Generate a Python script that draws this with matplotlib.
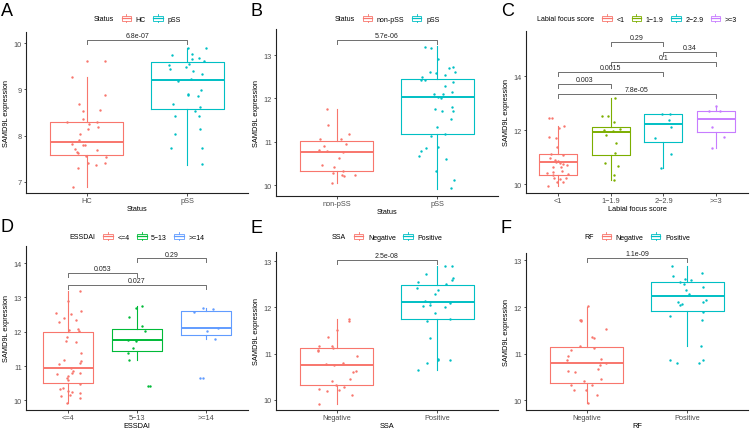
import numpy as np
import matplotlib
matplotlib.use("Agg")
import matplotlib.pyplot as plt
from matplotlib.lines import Line2D
from matplotlib.patches import Rectangle
from matplotlib.legend_handler import HandlerBase
from matplotlib.offsetbox import HPacker

plt.rcParams['font.family'] = ['Liberation Sans', 'DejaVu Sans']

# ---------------- data ----------------
# A: Status
a_groups = ["HC", "pSS"]
a_hc = [9.62, 9.62, 9.26, 8.88, 8.69, 8.54, 8.56, 8.35, 8.26, 8.30, 8.29, 8.14, 8.04, 8.18, 7.90,
        7.79, 7.81, 7.79, 7.71, 7.65, 7.70, 7.63, 7.55, 7.53, 7.41, 7.37, 7.40, 7.31, 6.90]
a_pss = [9.89, 9.90, 9.75, 9.77, 9.68, 9.66, 9.61, 9.52, 9.54, 9.49, 9.43, 9.39, 9.34, 9.23, 9.18,
         8.98, 8.88, 8.90, 8.85, 8.69, 8.62, 8.53, 8.42, 8.43, 8.15, 8.04, 7.74, 7.74, 7.38]
# whisker low, q1, median, q3, whisker high
a_stats = [[6.90, 7.58, 7.86, 8.30, 9.26], [7.37, 8.57, 9.20, 9.60, 9.90]]
a_pvals = [(0, 1, "6.8e-07")]

# B: Status
b_groups = ["non-pSS", "pSS"]
b_non = [11.75, 11.38, 11.17, 11.07, 11.07, 10.94, 10.90, 10.80, 10.78, 10.76, 10.63, 10.47, 10.43,
         10.33, 10.29, 10.24, 10.24, 10.21, 10.06]
b_pss = [13.19, 13.17, 12.90, 12.73, 12.70, 12.61, 12.61, 12.59, 12.53, 12.49, 12.43, 12.42, 12.37,
         12.29, 12.14, 12.11, 12.11, 12.04, 12.02, 11.81, 11.75, 11.71, 11.71, 11.52, 11.34, 11.17,
         11.14, 10.87, 10.85, 10.79, 10.67, 10.61, 10.33, 10.12, 9.94]
b_stats = [[10.06, 10.32, 10.76, 11.01, 11.75], [9.92, 11.17, 12.03, 12.44, 13.20]]
b_pvals = [(0, 1, "5.7e-06")]

# C: Labial focus score
c_groups = ["<1", "1\u22121.9", "2\u22122.9", ">=3"]
c_lt1 = [12.46, 12.46, 12.15, 12.08, 11.75, 11.71, 11.38, 11.14, 11.07, 10.97, 10.89, 10.85, 10.82,
         10.80, 10.76, 10.73, 10.64, 10.64, 10.49, 10.46, 10.42, 10.37, 10.33, 10.25, 10.25, 10.21,
         10.09, 10.09, 9.94]
c_1to2 = [13.19, 12.55, 12.52, 12.30, 12.06, 12.00, 11.96, 11.83, 11.54, 11.17, 10.80, 10.68, 10.36, 10.15]
c_2to3 = [12.61, 12.61, 12.39, 12.14, 11.72, 11.13, 10.60]
c_ge3 = [12.89, 12.73, 12.71, 12.12, 11.75, 11.34]
c_stats = [[9.94, 10.34, 10.81, 11.11, 12.18], [10.15, 11.08, 11.93, 12.12, 13.19],
           [10.60, 11.56, 12.25, 12.61, 12.61], [11.34, 11.93, 12.42, 12.72, 12.92]]
c_pvals = [(1, 2, "0.29"), (2, 3, "0.34"), (1, 3, "0.1"), (0, 2, "0.0015"), (0, 1, "0.003"),
           (0, 3, "7.8e-05")]

# D: ESSDAI
d_groups = ["<=4", "5\u221213", ">=14"]
d_le4 = [13.18, 12.89, 12.60, 12.56, 12.51, 12.40, 12.35, 12.28, 12.09, 12.05, 12.02, 11.85, 11.73,
         11.70, 11.37, 11.17, 11.14, 11.08, 11.06, 10.93, 10.87, 10.81, 10.81, 10.77, 10.72, 10.66,
         10.60, 10.47, 10.37, 10.34, 10.26, 10.25, 10.23, 10.16, 10.13, 10.06, 9.92]
d_5to13 = [12.74, 12.69, 12.43, 12.17, 12.02, 11.77, 11.73, 11.53, 11.37, 11.18, 10.42, 10.42]
d_ge14 = [12.69, 12.66, 12.59, 12.10, 12.01, 11.80, 10.65, 10.65]
d_stats = [[9.92, 10.50, 10.93, 12.00, 13.18], [11.18, 11.45, 11.76, 12.07, 12.74],
           [11.80, 11.91, 12.11, 12.60, 12.69]]
d_pvals = [(1, 2, "0.29"), (0, 1, "0.053"), (0, 2, "0.027")]

# E: SSA
e_groups = ["Negative", "Positive"]
e_neg = [11.74, 11.71, 11.51, 11.35, 11.17, 11.17, 11.12, 11.08, 11.06, 10.94, 10.79, 10.77, 10.75,
         10.63, 10.60, 10.45, 10.41, 10.33, 10.27, 10.24, 10.22, 10.19, 10.11, 9.91]
e_pos = [12.90, 12.90, 12.73, 12.63, 12.60, 12.54, 12.50, 12.43, 12.38, 12.30, 12.14, 12.12, 12.10,
         12.05, 12.03, 12.01, 11.88, 11.74, 11.71, 11.33, 10.86, 10.88, 10.86, 10.79, 10.65]
e_stats = [[9.91, 10.32, 10.76, 11.12, 11.74], [10.65, 11.74, 12.12, 12.48, 12.90]]
e_pvals = [(0, 1, "2.5e-08")]

# F: RF
f_groups = ["Negative", "Positive"]
f_neg = [12.02, 11.73, 11.72, 11.71, 11.52, 11.35, 11.34, 11.17, 11.12, 11.08, 10.94, 10.89, 10.87,
         10.80, 10.76, 10.67, 10.63, 10.61, 10.46, 10.42, 10.33, 10.32, 10.23, 10.21, 10.12, 9.93]
f_pos = [12.89, 12.73, 12.66, 12.61, 12.59, 12.53, 12.50, 12.43, 12.37, 12.29, 12.15, 12.11, 12.11,
         12.06, 12.04, 11.90, 11.81, 11.73, 11.17, 10.87, 10.87, 10.80, 10.80]
f_stats = [[9.93, 10.36, 10.79, 11.15, 12.00], [11.17, 11.92, 12.23, 12.53, 12.89]]
f_pvals = [(0, 1, "1.1e-09")]

# ---------------- style / layout ----------------
W, H = 753, 431
hue2 = ["#F8766D", "#00BFC4"]
hue3 = ["#F8766D", "#00BA38", "#619CFF"]
hue4 = ["#F8766D", "#7CAE00", "#00BFC4", "#C77CFF"]
fs_tick = 5.3
fs_leg = 5.0
br_col = "#6e6e6e"


class BoxKey(HandlerBase):
    # ggplot-like boxplot legend key
    def create_artists(self, legend, orig, xd, yd, w, h, fs, trans):
        c = orig.get_color()
        x0, y0 = -xd, -yd
        cx = x0 + w / 2
        arts = [
            Line2D([cx, cx], [y0, y0 + 0.22 * h], color=c, lw=0.6),
            Line2D([cx, cx], [y0 + 0.78 * h, y0 + h], color=c, lw=0.6),
            Rectangle((x0 + 0.1 * w, y0 + 0.22 * h), 0.8 * w, 0.56 * h, fill=False, ec=c, lw=0.6),
            Line2D([x0 + 0.1 * w, x0 + 0.9 * w], [y0 + 0.5 * h, y0 + 0.5 * h], color=c, lw=0.9),
        ]
        for a in arts:
            a.set_transform(trans)
        return arts


def px_rect(l, t, r, b):
    return [l / W, 1 - b / H, (r - l) / W, (b - t) / H]


fig = plt.figure(figsize=(W / 100, H / 100), dpi=100)


def panel(rect, letter, letter_xy, groups, series, stats, colors, pvals, bracket_y, ylim, yticks,
          xlabel, seed):
    ax = fig.add_axes(px_rect(*rect))
    n = len(groups)
    pos = np.arange(n)
    for i in range(n):
        s = stats[i]
        st = dict(whislo=s[0], q1=s[1], med=s[2], q3=s[3], whishi=s[4])
        ax.bxp([st], positions=[i], widths=0.72, showfliers=False, showcaps=False,
               boxprops=dict(color=colors[i], lw=0.8),
               whiskerprops=dict(color=colors[i], lw=0.8),
               medianprops=dict(color=colors[i], lw=1.4), manage_ticks=False)
    rng = np.random.default_rng(seed)
    for i, vals in enumerate(series):
        jit = rng.uniform(-0.2, 0.2, len(vals))
        ax.scatter(i + jit, vals, s=3, color=colors[i], lw=0, zorder=4)

    span = ylim[1] - ylim[0]
    tip = 0.025 * span
    for (g1, g2, lab), yb in zip(pvals, bracket_y):
        ax.plot([g1, g1, g2, g2], [yb - tip, yb, yb, yb - tip], color=br_col, lw=0.7,
                clip_on=False, zorder=3)
        ax.annotate(lab, (0.5 * (g1 + g2), yb), xytext=(0, 0.6), textcoords="offset points",
                    ha="center", va="bottom", fontsize=fs_leg, color="#222222")

    ax.set_xlim(-0.6, n - 0.4)
    ax.set_ylim(ylim)
    ax.set_xticks(pos)
    ax.set_xticklabels(groups)
    ax.set_yticks(yticks)
    for sp in ["top", "right"]:
        ax.spines[sp].set_visible(False)
    for sp in ["left", "bottom"]:
        ax.spines[sp].set_linewidth(0.8)
        ax.spines[sp].set_color("#222222")
    ax.tick_params(length=1.8, width=0.6, color="#333333", labelsize=fs_tick,
                   labelcolor="#4D4D4D", pad=1.0)
    ax.set_ylabel("SAMD9L expression", fontsize=fs_tick, labelpad=3)
    ax.set_xlabel(xlabel, fontsize=fs_tick, labelpad=0.5)

    fig.text(letter_xy[0] / W, 1 - letter_xy[1] / H, letter, fontsize=13, ha="left", va="top")

    handles = [Line2D([], [], color=c) for c in colors]
    cx = (rect[0] + rect[2]) / 2
    leg = fig.legend(handles, groups, handler_map={Line2D: BoxKey()}, ncol=n, frameon=False,
                     fontsize=fs_leg, handlelength=1.7, handleheight=1.4, columnspacing=0.9,
                     handletextpad=0.5, title=xlabel, title_fontsize=fs_leg, loc="center",
                     bbox_to_anchor=(cx / W, 1 - letter_xy[2] / H), borderpad=0)
    # title to the left of the keys, as in ggplot
    box = HPacker(pad=0, sep=5, align="center",
                  children=[leg._legend_title_box, leg._legend_handle_box])
    box.set_figure(fig)
    box.set_offset(leg._findoffset)
    leg._legend_box = box
    return ax


panel((26, 33, 248, 194), "A", (1, 3, 19.5), a_groups, [a_hc, a_pss], a_stats, hue2, a_pvals,
      [10.06], (6.76, 10.24), [7, 8, 9, 10], "Status", 1)
panel((276, 30, 498, 197), "B", (251, 3, 19.5), b_groups, [b_non, b_pss], b_stats, hue2, b_pvals,
      [13.34], (9.75, 13.6), [10, 11, 12, 13], "Status", 2)
panel((526, 32, 748, 194), "C", (501, 3, 19.5), c_groups, [c_lt1, c_1to2, c_2to3, c_ge3], c_stats,
      hue4, c_pvals, [15.29, 14.92, 14.52, 14.15, 13.72, 13.35], (9.68, 15.68), [10, 12, 14],
      "Labial focus score", 3)
panel((26, 247, 248, 411), "D", (1, 219, 237.5), d_groups, [d_le4, d_5to13, d_ge14], d_stats, hue3,
      d_pvals, [14.14, 13.72, 13.36], (9.72, 14.5), [10, 11, 12, 13, 14], "ESSDAI", 4)
panel((276, 253, 498, 411), "E", (251, 220, 237.5), e_groups, [e_neg, e_pos], e_stats, hue2, e_pvals,
      [13.03], (9.78, 13.2), [10, 11, 12, 13], "SSA", 5)
panel((526, 254, 748, 411), "F", (501, 220, 237.5), f_groups, [f_neg, f_pos], f_stats, hue2, f_pvals,
      [13.06], (9.79, 13.16), [10, 11, 12, 13], "RF", 6)

fig.savefig("out.png", dpi=100)
